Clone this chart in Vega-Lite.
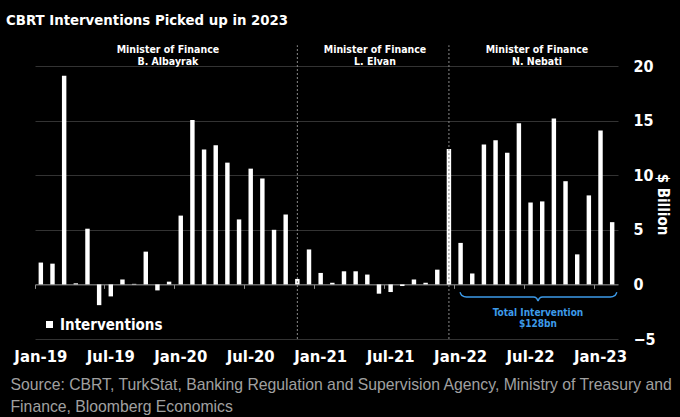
{
  "$schema": "https://vega.github.io/schema/vega-lite/v6.json",
  "width": 583,
  "height": 273,
  "autosize": {"type": "none"},
  "padding": {"left": 35, "top": 66, "right": 62, "bottom": 78},
  "background": "black",
  "title": {
    "text": "CBRT Interventions Picked up in 2023",
    "anchor": "start",
    "frame": "group",
    "dx": -29,
    "offset": 5,
    "baseline": "alphabetic",
    "font": "DejaVu Sans Condensed",
    "fontSize": 14.8,
    "fontWeight": "bold",
    "color": "#ffffff"
  },
  "config": {
    "view": {"stroke": null},
    "font": "DejaVu Sans Condensed"
  },
  "datasets": {
    "interventions": [
      {"month": "2019-01", "value": 2.0}, {"month": "2019-02", "value": 1.9}, {"month": "2019-03", "value": 19.1},
      {"month": "2019-04", "value": 0.1}, {"month": "2019-05", "value": 5.1}, {"month": "2019-06", "value": -1.9},
      {"month": "2019-07", "value": -1.1}, {"month": "2019-08", "value": 0.45}, {"month": "2019-09", "value": 0.05},
      {"month": "2019-10", "value": 3.0}, {"month": "2019-11", "value": -0.55}, {"month": "2019-12", "value": 0.25},
      {"month": "2020-01", "value": 6.3}, {"month": "2020-02", "value": 15.05}, {"month": "2020-03", "value": 12.35},
      {"month": "2020-04", "value": 12.75}, {"month": "2020-05", "value": 11.15}, {"month": "2020-06", "value": 5.95},
      {"month": "2020-07", "value": 10.6}, {"month": "2020-08", "value": 9.7}, {"month": "2020-09", "value": 5.0},
      {"month": "2020-10", "value": 6.4}, {"month": "2020-11", "value": 0.5}, {"month": "2020-12", "value": 3.2},
      {"month": "2021-01", "value": 1.05}, {"month": "2021-02", "value": 0.15}, {"month": "2021-03", "value": 1.2},
      {"month": "2021-04", "value": 1.2}, {"month": "2021-05", "value": 0.9}, {"month": "2021-06", "value": -0.85},
      {"month": "2021-07", "value": -0.7}, {"month": "2021-08", "value": -0.15}, {"month": "2021-09", "value": 0.45},
      {"month": "2021-10", "value": 0.15}, {"month": "2021-11", "value": 1.35}, {"month": "2021-12", "value": 12.4},
      {"month": "2022-01", "value": 3.8}, {"month": "2022-02", "value": 1.0}, {"month": "2022-03", "value": 12.8},
      {"month": "2022-04", "value": 13.2}, {"month": "2022-05", "value": 12.05}, {"month": "2022-06", "value": 14.75},
      {"month": "2022-07", "value": 7.5}, {"month": "2022-08", "value": 7.6}, {"month": "2022-09", "value": 15.2},
      {"month": "2022-10", "value": 9.45}, {"month": "2022-11", "value": 2.75}, {"month": "2022-12", "value": 8.15},
      {"month": "2023-01", "value": 14.1}, {"month": "2023-02", "value": 5.7}
    ],
    "changes": [
      {"month": "2020-11", "bottom": -5, "top": 21.9},
      {"month": "2021-12", "bottom": -5, "top": 21.9}
    ],
    "ministers": [
      {"pos": 11.4, "y": 21.9, "label": "Minister of Finance\nB. Albayrak"},
      {"pos": 29.16, "y": 21.9, "label": "Minister of Finance\nL. Elvan"},
      {"pos": 43.05, "y": 21.9, "label": "Minister of Finance\nN. Nebati"}
    ],
    "brace": [
      {"order": 1, "pos": 36.45, "y": -0.72}, {"order": 2, "pos": 36.6, "y": -1.0},
      {"order": 3, "pos": 37.0, "y": -1.15}, {"order": 4, "pos": 42.75, "y": -1.15},
      {"order": 5, "pos": 43.02, "y": -1.27}, {"order": 6, "pos": 43.14, "y": -1.5},
      {"order": 7, "pos": 43.26, "y": -1.27}, {"order": 8, "pos": 43.53, "y": -1.15},
      {"order": 9, "pos": 49.35, "y": -1.15}, {"order": 10, "pos": 49.75, "y": -1.0},
      {"order": 11, "pos": 49.9, "y": -0.72}
    ],
    "total": [
      {"pos": 43.14, "y": -2.2, "label": "Total Intervention\n$128bn"}
    ]
  },
  "layer": [
    {
      "layer": [
        {
          "data": {"name": "interventions"},
          "mark": {"type": "bar", "width": {"band": 0.38}},
          "encoding": {
            "x": {
              "field": "month",
              "type": "ordinal",
              "scale": {"paddingInner": 0, "paddingOuter": 0},
              "axis": {
                "orient": "bottom",
                "values": ["2019-01", "2019-07", "2020-01", "2020-07", "2021-01", "2021-07", "2022-01", "2022-07", "2023-01"],
                "labelExpr": "(substring(datum.value,5,7)=='01' ? 'Jan-' : 'Jul-') + substring(datum.value,2,4)",
                "labelAngle": 0,
                "labelFont": "DejaVu Sans Condensed",
                "labelFontSize": 16.5,
                "labelFontWeight": "bold",
                "labelColor": "#ffffff",
                "labelPadding": 9,
                "labelBaseline": "top",
                "ticks": false,
                "domain": false,
                "grid": false,
                "title": ["Source: CBRT, TurkStat, Banking Regulation and Supervision Agency, Ministry of Treasury and", "Finance, Bloomberg Economics"],
                "titleFont": "Liberation Sans",
                "titleFontSize": 15.75,
                "titleFontWeight": "normal",
                "titleColor": "#a0a0a0",
                "titleAnchor": "start",
                "titleAlign": "left",
                "titleBaseline": "middle",
                "titleX": -25,
                "titleY": 45,
                "titleLineHeight": 22
              }
            },
            "y": {
              "field": "value",
              "type": "quantitative",
              "scale": {"domain": [-5, 20], "nice": false},
              "axis": {
                "orient": "right",
                "values": [-5, 0, 5, 10, 15, 20],
                "grid": true,
                "gridColor": "#333333",
                "gridWidth": 1,
                "domain": false,
                "ticks": false,
                "labelPadding": 15,
                "labelAlign": "left",
                "labelFont": "DejaVu Sans Condensed",
                "labelFontSize": 16,
                "labelFontWeight": "bold",
                "labelColor": "#ffffff",
                "title": "$ Billion",
                "titleFont": "DejaVu Sans Condensed",
                "titleFontSize": 15,
                "titleFontWeight": "bold",
                "titleColor": "#ffffff",
                "titleAngle": 90,
                "titleAlign": "center",
                "titleBaseline": "middle",
                "titleX": 44,
                "titleY": 138
              }
            },
            "color": {
              "datum": "Interventions",
              "type": "nominal",
              "scale": {"range": ["#ffffff"]},
              "legend": {
                "orient": "none",
                "legendX": 7,
                "legendY": 251,
                "title": null,
                "symbolType": "square",
                "symbolSize": 49,
                "symbolStrokeWidth": 0,
                "labelFont": "DejaVu Sans Condensed",
                "labelFontSize": 15,
                "labelFontWeight": "bold",
                "labelColor": "#ffffff",
                "labelOffset": 3,
                "padding": 0
              }
            }
          }
        },
        {
          "data": {"name": "changes"},
          "mark": {"type": "rule", "color": "#8a8a8a", "strokeDash": [2, 2], "strokeWidth": 1},
          "encoding": {
            "x": {
              "field": "month",
              "type": "ordinal",
              "axis": {
                "orient": "bottom",
                "offset": -54.6,
                "values": ["2019-01", "2019-07", "2020-01", "2020-07", "2021-01", "2021-07", "2022-01", "2022-07", "2023-01"],
                "bandPosition": 0,
                "labels": false,
                "title": null,
                "grid": false,
                "domain": true,
                "domainColor": "#8c8c8c",
                "domainWidth": 1,
                "ticks": true,
                "tickColor": "#8c8c8c",
                "tickSize": 4,
                "tickWidth": 1
              }
            },
            "y": {"field": "bottom", "type": "quantitative", "scale": {"domain": [-5, 20], "nice": false}},
            "y2": {"field": "top"}
          }
        }
      ],
      "resolve": {"axis": {"x": "independent"}}
    },
    {
      "layer": [
        {
          "data": {"name": "ministers"},
          "mark": {"type": "text", "color": "#ffffff", "font": "DejaVu Sans Condensed", "fontSize": 10.5, "fontWeight": "bold", "baseline": "top", "align": "center", "lineBreak": "\n", "lineHeight": 12},
          "encoding": {
            "x": {"field": "pos", "type": "quantitative", "scale": {"domain": [0, 50], "nice": false, "zero": false}, "axis": null},
            "y": {"field": "y", "type": "quantitative", "scale": {"domain": [-5, 20], "nice": false}},
            "text": {"field": "label"}
          }
        },
        {
          "data": {"name": "brace"},
          "mark": {"type": "line", "color": "#3d9be9", "strokeWidth": 1.5, "interpolate": "monotone"},
          "encoding": {
            "x": {"field": "pos", "type": "quantitative", "scale": {"domain": [0, 50], "nice": false, "zero": false}, "axis": null},
            "y": {"field": "y", "type": "quantitative", "scale": {"domain": [-5, 20], "nice": false}},
            "order": {"field": "order"}
          }
        },
        {
          "data": {"name": "total"},
          "mark": {"type": "text", "color": "#3d9be9", "font": "DejaVu Sans Condensed", "fontSize": 10, "fontWeight": "bold", "baseline": "top", "align": "center", "lineBreak": "\n", "lineHeight": 11},
          "encoding": {
            "x": {"field": "pos", "type": "quantitative", "scale": {"domain": [0, 50], "nice": false, "zero": false}, "axis": null},
            "y": {"field": "y", "type": "quantitative", "scale": {"domain": [-5, 20], "nice": false}},
            "text": {"field": "label"}
          }
        }
      ]
    }
  ],
  "resolve": {"scale": {"x": "independent"}}
}
